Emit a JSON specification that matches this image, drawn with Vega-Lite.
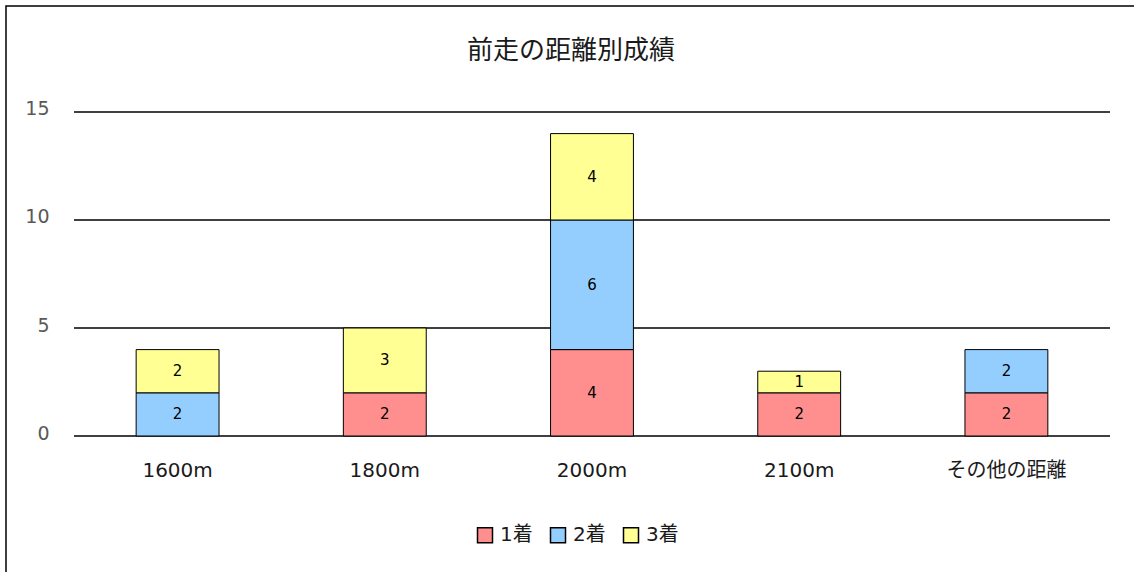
{
  "$schema": "https://vega.github.io/schema/vega-lite/v6.json",
  "width": 1130,
  "height": 570,
  "autosize": {"type": "none"},
  "padding": {"left": 6, "top": 6, "right": 0, "bottom": 0},
  "title": {
    "text": "前走の距離別成績",
    "fontSize": 26,
    "fontWeight": "normal",
    "color": "#1a1a1a",
    "anchor": "middle",
    "offset": -58
  },
  "config": {
    "font": "DejaVu Sans, Noto Sans CJK JP",
    "view": {"stroke": "#000000", "strokeWidth": 1.5}
  },
  "datasets": {
    "grid": [{"v": 0}, {"v": 5}, {"v": 10}, {"v": 15}],
    "results": [
      {"dist": "1600m", "rank": "2着", "n": 2},
      {"dist": "1600m", "rank": "3着", "n": 2},
      {"dist": "1800m", "rank": "1着", "n": 2},
      {"dist": "1800m", "rank": "3着", "n": 3},
      {"dist": "2000m", "rank": "1着", "n": 4},
      {"dist": "2000m", "rank": "2着", "n": 6},
      {"dist": "2000m", "rank": "3着", "n": 4},
      {"dist": "2100m", "rank": "1着", "n": 2},
      {"dist": "2100m", "rank": "3着", "n": 1},
      {"dist": "その他の距離", "rank": "1着", "n": 2},
      {"dist": "その他の距離", "rank": "2着", "n": 2}
    ]
  },
  "layer": [
    {
      "data": {"name": "grid"},
      "mark": {"type": "rule", "color": "#000000", "strokeWidth": 1.5},
      "encoding": {
        "y": {"field": "v", "type": "quantitative"},
        "x": {"datum": "1600m", "bandPosition": 0},
        "x2": {"datum": "その他の距離", "bandPosition": 1}
      }
    },
    {
      "data": {"name": "results"},
      "transform": [
        {"stack": "n", "groupby": ["dist"], "sort": [{"field": "rank"}], "as": ["lo", "hi"]}
      ],
      "encoding": {
        "x": {
          "field": "dist",
          "type": "nominal",
          "sort": null,
          "scale": {
            "domain": ["1600m", "1800m", "2000m", "2100m", "その他の距離"],
            "paddingInner": 0,
            "paddingOuter": 0.2268,
            "align": 0.7234
          },
          "axis": {
            "title": null,
            "orient": "bottom",
            "offset": -140,
            "domain": false,
            "ticks": false,
            "labelAngle": 0,
            "labelAlign": "center",
            "labelPadding": 34,
            "labelFontSize": 20,
            "labelColor": "#1a1a1a"
          }
        }
      },
      "layer": [
        {
          "mark": {"type": "bar", "width": {"band": 0.4}, "stroke": "#000000", "strokeWidth": 1},
          "encoding": {
            "y": {
              "field": "lo",
              "type": "quantitative",
              "scale": {"domain": [-6.481, 19.907], "nice": false, "zero": false},
              "axis": {
                "title": null,
                "values": [0, 5, 10, 15],
                "offset": -68,
                "domain": false,
                "ticks": false,
                "grid": false,
                "labelPadding": 25,
                "labelOffset": -3,
                "labelFontSize": 19,
                "labelColor": "#595959"
              }
            },
            "y2": {"field": "hi"},
            "color": {
              "field": "rank",
              "type": "nominal",
              "scale": {
                "domain": ["1着", "2着", "3着"],
                "range": ["#FF8F8F", "#94CEFF", "#FFFF94"]
              },
              "legend": {
                "title": null,
                "orient": "none",
                "legendX": 469,
                "legendY": 519,
                "direction": "horizontal",
                "symbolType": "square",
                "symbolSize": 225,
                "symbolStrokeColor": "#000000",
                "symbolStrokeWidth": 1.5,
                "symbolOpacity": 1,
                "labelFontSize": 20,
                "labelColor": "#1a1a1a",
                "labelOffset": 5,
                "columnPadding": 14
              }
            }
          }
        },
        {
          "transform": [
            {"fold": ["lo", "hi"], "as": ["edge", "pos"]},
            {"aggregate": [{"op": "mean", "field": "pos", "as": "mid"}], "groupby": ["dist", "rank", "n"]}
          ],
          "mark": {"type": "text", "fontSize": 15, "color": "#000000"},
          "encoding": {
            "y": {"field": "mid", "type": "quantitative"},
            "text": {"field": "n", "type": "quantitative"}
          }
        }
      ]
    }
  ]
}
